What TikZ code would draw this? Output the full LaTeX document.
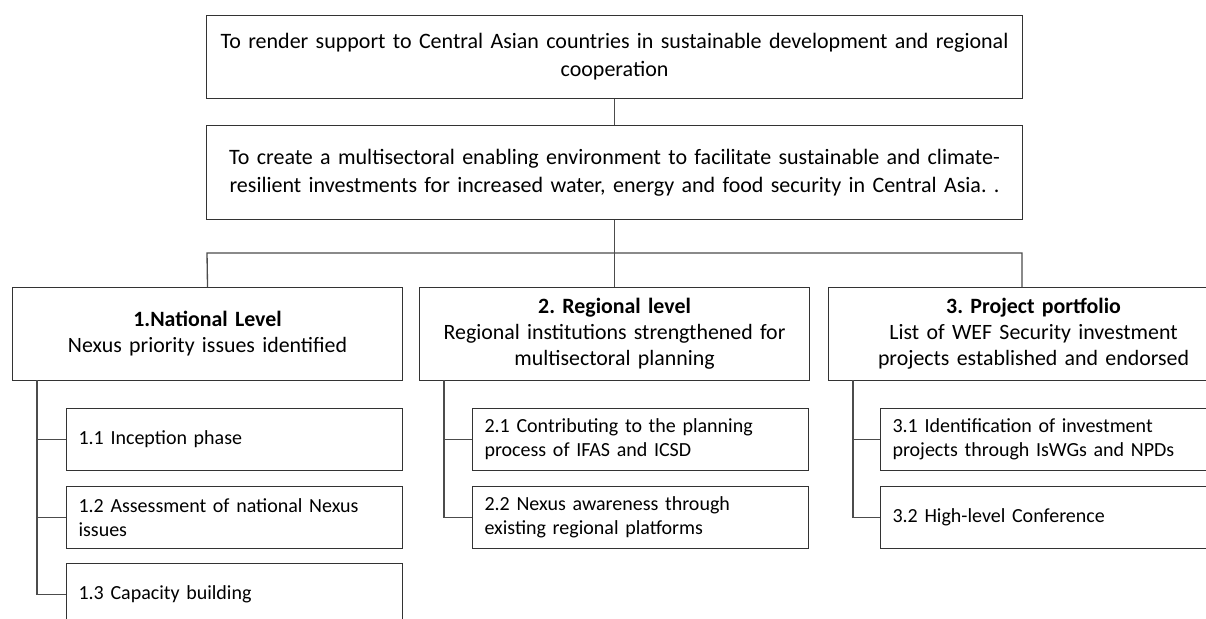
\documentclass[tikz,border=0pt]{standalone}
\usepackage{fontspec}
\setmainfont{Carlito}
\frenchspacing

\tikzset{
    box/.style={draw=black!80,line width=0.8pt,anchor=north west,inner sep=0pt,align=center},
    goalbox/.style={box,text width=612pt,font=\fontsize{16.5}{21}\selectfont},
    levelbox/.style={box,minimum height=69.75pt,font=\fontsize{16.4}{19.5}\selectfont},
    subbox/.style={box,text width=234pt,inner xsep=9pt,align=left,minimum height=46.5pt,font=\fontsize{15}{18}\selectfont},
    link/.style={draw=black!70,line width=1pt}
}

\begin{document}
\begin{tikzpicture}[x=0.75pt,y=-0.75pt]
                \clip(0,0)rectangle(1206,618);
                % goals
                \node[goalbox,minimum height=62.25pt](aim)at(206,15){To render support to Central Asian countries in sustainable development and regional\\cooperation};
                \node[goalbox,minimum height=70.5pt](goal)at(206,125){To create a multisectoral enabling environment to facilitate sustainable and climate-\\resilient investments for increased water, energy and food security in Central Asia. .};
                % levels
                \node[levelbox,text width=292.5pt](l1)at(12,287){\textbf{1.National Level}\\Nexus priority issues identified};
                \node[levelbox,text width=292.5pt](l2)at(419,287){\textbf{2. Regional level}\\Regional institutions strengthened for\\multisectoral planning};
                \node[levelbox,text width=307.5pt](l3)at(828,287){\textbf{3. Project portfolio}\\List of WEF Security investment\\projects established and endorsed};
                % activities
                \node[subbox](s11)at(66,408){1.1 Inception phase};
                \node[subbox](s12)at(66,486){1.2 Assessment of national Nexus\\issues};
                \node[subbox](s13)at(66,563){1.3 Capacity building};
                \node[subbox](s21)at(472,408){2.1 Contributing to the planning\\process of IFAS and ICSD};
                \node[subbox](s22)at(472,486){2.2 Nexus awareness through\\existing regional platforms};
                \node[subbox](s31)at(880,408){3.1 Identification of investment\\projects through IsWGs and NPDs};
                \node[subbox](s32)at(880,486){3.2 High-level Conference};
                % connectors
                \coordinate(b1)at(207,253);
                \coordinate(b3)at(1022,253);
                \coordinate(t1)at(37,380);
                \coordinate(t2)at(444,380);
                \coordinate(t3)at(853,380);
                \draw[link](aim.south)--(goal.north);
                \draw[link](goal.south)--(goal.south|-b1);
                \draw[link](l1.north)--(b1)--(b3)--(l3.north-|b3);
                \draw[link](goal.south|-b1)--(l2.north);
                \draw[link](t1)|-(s13.west);
                \draw[link](t1|-s11.west)--(s11.west);
                \draw[link](t1|-s12.west)--(s12.west);
                \draw[link](t2)|-(s22.west);
                \draw[link](t2|-s21.west)--(s21.west);
                \draw[link](t3)|-(s32.west);
                \draw[link](t3|-s31.west)--(s31.west);
            \end{tikzpicture}
\end{document}
